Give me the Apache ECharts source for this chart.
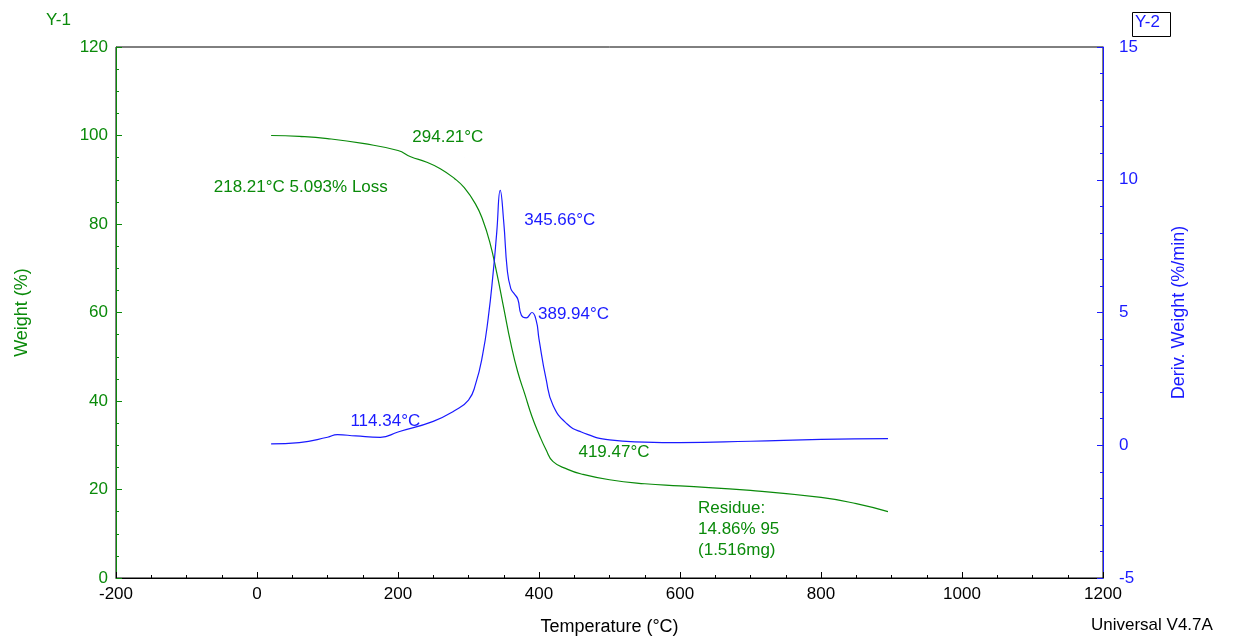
<!DOCTYPE html>
<html><head><meta charset="utf-8">
<script src="https://cdn.jsdelivr.net/npm/echarts@6/dist/echarts.min.js"></script>
<style>html,body{margin:0;background:#fff}#main{width:1243px;height:638px}</style>
</head><body><div id="main"></div>
<script>
// weight curve (temperature, %)
const weightData = [[20,100],[60,99.8],[100,99.3],[150,98.2],[200,96.6],[218,95.2],[240,94],[260,92.5],[280,90.3],[294,88.2],[310,84.5],[320,81],[330,76],[340,69],[350,61],[360,53],[370,46.5],[380,41.5],[390,36.5],[400,32.5],[410,29],[420,26.3],[440,24.6],[460,23.5],[500,22.2],[550,21.3],[600,20.8],[700,19.8],[800,18.2],[850,16.8],[895,15]];
// derivative curve (temperature, %/min)
const derivData = [[20,0.05],[60,0.1],[100,0.3],[114,0.4],[140,0.35],[175,0.3],[200,0.5],[250,0.9],[280,1.3],[300,1.7],[310,2.3],[320,3.4],[328,4.8],[335,6.5],[340,8.0],[345,9.6],[350,8.4],[355,6.6],[360,5.9],[365,5.7],[370,5.5],[375,4.9],[382,4.8],[390,5.0],[396,4.7],[400,4.0],[410,2.5],[420,1.5],[440,0.8],[460,0.5],[500,0.2],[550,0.12],[600,0.1],[700,0.15],[800,0.22],[895,0.25]];

const green = '#0a8a0a', blue = '#1a1aff';
const font = 'Liberation Sans, Arial, sans-serif';
const chart = echarts.init(document.getElementById('main'));

function lab(coord, text, color, dx, dy){
  return {coord, symbol:'circle', symbolSize:0.1, label:{show:true, formatter:text, color, fontSize:17, fontFamily:font, offset:[dx,dy], position:'right'}};
}

chart.setOption({
  animation:false,
  grid:{left:116, right:140, top:47, bottom:60, show:true, borderColor:'#000', borderWidth:1, outerBoundsMode:'none', containLabel:false},
  xAxis:{type:'value', min:-200, max:1200, interval:200,
    name:'Temperature (°C)', nameLocation:'middle', nameGap:40,
    nameTextStyle:{fontSize:18, fontFamily:font, color:'#000'},
    axisLine:{lineStyle:{color:'#000'}}, axisTick:{inside:true, length:6},
    minorTick:{show:true, splitNumber:4, length:3},
    axisLabel:{fontSize:17, fontFamily:font, color:'#000', formatter:v=>String(v)}, splitLine:{show:false}},
  yAxis:[
    {type:'value', min:0, max:120, interval:20, name:'Weight (%)', nameLocation:'middle', nameGap:85,
      nameTextStyle:{fontSize:18, fontFamily:font, color:green},
      axisLine:{show:true, onZero:false, lineStyle:{color:green}}, axisTick:{show:true, inside:true, length:6},
      minorTick:{show:true, splitNumber:4, length:3},
      axisLabel:{fontSize:17, fontFamily:font, color:green}, splitLine:{show:false}},
    {type:'value', min:-5, max:15, interval:5, name:'Deriv. Weight (%/min)', nameLocation:'middle', nameGap:67,
      nameTextStyle:{fontSize:18, fontFamily:font, color:blue},
      axisLine:{show:true, onZero:false, lineStyle:{color:blue}}, axisTick:{show:true, inside:true, length:6},
      minorTick:{show:true, splitNumber:5, length:3},
      axisLabel:{fontSize:17, fontFamily:font, color:blue, margin:16}, splitLine:{show:false}}
  ],
  graphic:[
    {type:'text', left:46, top:12, style:{text:'Y-1', fill:green, font:'17px '+font}},
    {type:'rect', left:1130, top:10, shape:{width:38, height:24}, style:{fill:'none', stroke:'#000'}},
    {type:'text', left:1135, top:14, style:{text:'Y-2', fill:blue, font:'17px '+font}},
    {type:'text', left:1091, top:617, style:{text:'Universal V4.7A', fill:'#000', font:'17px '+font}}
  ],
  series:[
    {type:'line', yAxisIndex:0, data:weightData, smooth:true, showSymbol:false,
      lineStyle:{color:green, width:1.2},
      markPoint:{data:[
        lab([294,95],'294.21°C',green,-57,-20),
        lab([218,95],'218.21°C 5.093% Loss',green,-202,30),
        lab([419,26],'419.47°C',green,21,-11),
        {coord:[695,20], symbol:'circle', symbolSize:0.1, label:{show:true, position:'right', align:'left', formatter:'Residue:\n14.86% 95\n(1.516mg)', color:green, fontSize:17, lineHeight:21, fontFamily:font, offset:[-54,40]}}
      ]}},
    {type:'line', yAxisIndex:1, data:derivData, smooth:true, showSymbol:false,
      lineStyle:{color:blue, width:1.2},
      markPoint:{data:[
        lab([345,9.6],'345.66°C',blue,19,30),
        lab([390,5.0],'389.94°C',blue,1,2),
        lab([114,0.4],'114.34°C',blue,8,-13)
      ]}}
  ]
});
</script></body></html>
